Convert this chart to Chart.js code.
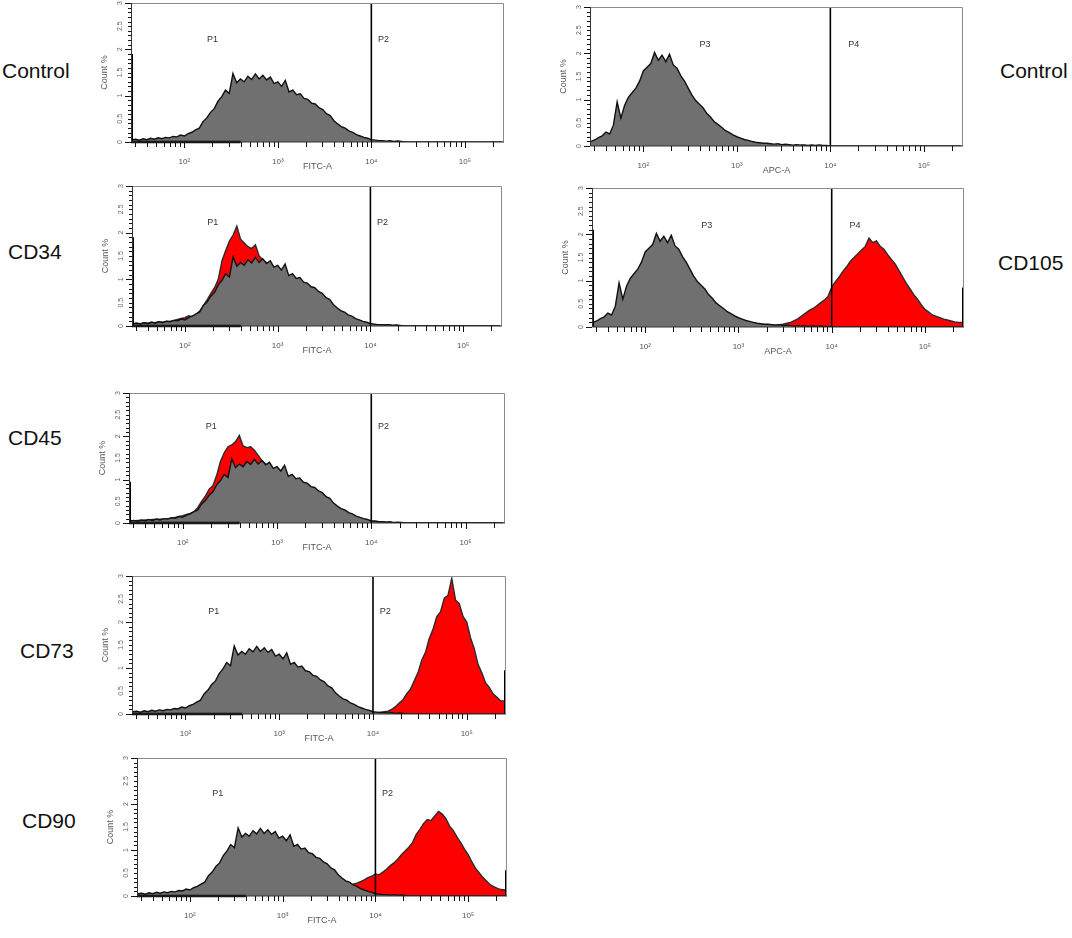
<!DOCTYPE html>
<html>
<head>
<meta charset="utf-8">
<script src="https://cdn.jsdelivr.net/npm/chart.js@4.4.1/dist/chart.umd.min.js"></script>
<style>
  body { margin: 0; background: #fff; width: 1072px; height: 938px; position: relative; overflow: hidden;
         font-family: "Liberation Sans", Arial, sans-serif; }
  .row-label { position: absolute; font-size: 21px; line-height: 1; color: #111; transform: translateY(-50%); }
  canvas { position: absolute; }
</style>
</head>
<body>

<div class="row-label" style="left:2px;top:70px">Control</div>
<div class="row-label" style="left:8px;top:251px">CD34</div>
<div class="row-label" style="left:8px;top:437px">CD45</div>
<div class="row-label" style="left:20px;top:650px">CD73</div>
<div class="row-label" style="left:22px;top:820px">CD90</div>
<div class="row-label" style="left:1000px;top:70px">Control</div>
<div class="row-label" style="left:998px;top:262px">CD105</div>

<script>
// histogram bins: centre of each bin as log10 of fluorescence
const binLog = Array.from({ length: 100 }, (_, i) => +(1.44 + i * 0.04).toFixed(2));

const xMin = 26.9;
const xMax = 262144;
const xTickVals = [30, 40, 50, 60, 70, 80, 90,
  100, 200, 300, 400, 500, 600, 700, 800, 900,
  1000, 2000, 3000, 4000, 5000, 6000, 7000, 8000, 9000,
  10000, 20000, 30000, 40000, 50000, 60000, 70000, 80000, 90000,
  100000, 200000];
const xTickLabels = { 100: '10²', 1000: '10³', 10000: '10⁴', 100000: '10⁵' };
const yLabelVals = [0, 0.5, 1, 1.5, 2, 2.5, 3];
const gateValue = 10000;
const fitcMarkerBar = [xMin, 400];   // dark bar along the FITC baseline

const fitcGateLabels = [{ text: 'P1', x: 200, y: 2.22 }, { text: 'P2', x: 13500, y: 2.22 }];
const apcGateLabels = [{ text: 'P3', x: 457, y: 2.2 }, { text: 'P4', x: 17800, y: 2.2 }];

// Count % per bin
const controlFITC = [
  0.05, 0.06, 0.04, 0.07, 0.05, 0.08, 0.06, 0.09, 0.07, 0.10,
  0.09, 0.12, 0.11, 0.15, 0.13, 0.18, 0.21, 0.26, 0.30, 0.44,
  0.52, 0.64, 0.72, 0.88, 0.98, 1.12, 1.05, 1.48, 1.28, 1.36,
  1.30, 1.42, 1.35, 1.47, 1.36, 1.44, 1.34, 1.40, 1.26, 1.30,
  1.20, 1.33, 1.08, 1.12, 1.02, 1.04, 0.94, 0.92, 0.84, 0.82,
  0.74, 0.70, 0.61, 0.57, 0.46, 0.39, 0.33, 0.30, 0.24, 0.21,
  0.16, 0.13, 0.10, 0.08, 0.05, 0.04, 0.03, 0.03, 0.02, 0.03,
  0.01, 0.02, 0.01, 0, 0, 0, 0, 0, 0, 0,
  0, 0, 0, 0, 0, 0, 0, 0, 0, 0,
  0, 0, 0, 0, 0, 0, 0, 0, 0, 0];

const cd34 = [
  0.05, 0.06, 0.05, 0.07, 0.06, 0.08, 0.07, 0.09, 0.08, 0.10,
  0.10, 0.12, 0.14, 0.16, 0.18, 0.22, 0.20, 0.24, 0.32, 0.44,
  0.56, 0.70, 0.82, 1.00, 1.40, 1.62, 1.82, 1.95, 2.14, 1.86,
  1.78, 1.70, 1.66, 1.74, 1.50, 1.42, 1.36, 1.30, 1.26, 1.20,
  1.18, 1.12, 1.06, 1.04, 1.00, 0.96, 0.92, 0.88, 0.84, 0.78,
  0.72, 0.66, 0.60, 0.52, 0.44, 0.36, 0.30, 0.25, 0.20, 0.16,
  0.13, 0.10, 0.08, 0.06, 0.05, 0.03, 0.03, 0.02, 0.02, 0.02,
  0.01, 0.01, 0, 0, 0, 0, 0, 0, 0, 0,
  0, 0, 0, 0, 0, 0, 0, 0, 0, 0,
  0, 0, 0, 0, 0, 0, 0, 0, 0, 0];

const cd45 = [
  0.05, 0.05, 0.06, 0.06, 0.07, 0.07, 0.08, 0.08, 0.09, 0.09,
  0.10, 0.11, 0.13, 0.15, 0.17, 0.20, 0.22, 0.26, 0.36, 0.50,
  0.62, 0.78, 0.86, 1.10, 1.42, 1.62, 1.76, 1.80, 1.88, 2.02,
  1.78, 1.74, 1.76, 1.68, 1.56, 1.44, 1.36, 1.28, 1.24, 1.18,
  1.16, 1.10, 1.06, 1.02, 0.98, 0.94, 0.90, 0.86, 0.82, 0.76,
  0.70, 0.64, 0.58, 0.50, 0.42, 0.35, 0.30, 0.24, 0.20, 0.16,
  0.12, 0.10, 0.08, 0.06, 0.05, 0.04, 0.03, 0.02, 0.02, 0.01,
  0, 0, 0, 0, 0, 0, 0, 0, 0, 0,
  0, 0, 0, 0, 0, 0, 0, 0, 0, 0,
  0, 0, 0, 0, 0, 0, 0, 0, 0, 0];

const cd73 = [
  0, 0, 0, 0, 0, 0, 0, 0, 0, 0,
  0, 0, 0, 0, 0, 0, 0, 0, 0, 0,
  0, 0, 0, 0, 0, 0, 0, 0, 0, 0,
  0, 0, 0, 0, 0, 0, 0, 0, 0, 0,
  0, 0, 0, 0, 0, 0, 0, 0, 0, 0,
  0, 0, 0, 0, 0, 0, 0, 0, 0, 0,
  0, 0, 0, 0, 0.02, 0.03, 0.04, 0.05, 0.06, 0.10,
  0.16, 0.24, 0.31, 0.44, 0.54, 0.72, 0.90, 1.17, 1.34, 1.64,
  1.84, 2.12, 2.22, 2.52, 2.58, 2.95, 2.48, 2.40, 2.12, 2.00,
  1.66, 1.42, 1.08, 0.90, 0.68, 0.58, 0.44, 0.37, 0.29, 0.28];

const cd90 = [
  0, 0, 0, 0, 0, 0, 0, 0, 0, 0,
  0, 0, 0, 0, 0, 0, 0, 0, 0, 0,
  0, 0, 0, 0, 0, 0, 0, 0, 0, 0,
  0, 0, 0, 0, 0, 0, 0, 0, 0, 0,
  0, 0, 0, 0, 0, 0, 0, 0, 0, 0,
  0, 0, 0, 0, 0, 0, 0.10, 0.16, 0.26, 0.28,
  0.31, 0.35, 0.40, 0.43, 0.48, 0.46, 0.52, 0.58, 0.66, 0.72,
  0.80, 0.90, 0.98, 1.06, 1.16, 1.34, 1.45, 1.58, 1.66, 1.64,
  1.74, 1.84, 1.78, 1.68, 1.52, 1.42, 1.28, 1.16, 1.02, 0.90,
  0.74, 0.60, 0.50, 0.40, 0.32, 0.24, 0.20, 0.16, 0.14, 0.13];

const controlAPC = [
  0.10, 0.13, 0.18, 0.22, 0.30, 0.26, 0.45, 0.95, 0.60, 0.88,
  1.05, 1.15, 1.25, 1.40, 1.62, 1.70, 1.78, 2.02, 1.85, 1.96,
  1.82, 1.98, 1.75, 1.68, 1.52, 1.40, 1.25, 1.10, 0.98, 0.90,
  0.82, 0.70, 0.62, 0.52, 0.46, 0.40, 0.33, 0.29, 0.24, 0.20,
  0.17, 0.14, 0.12, 0.10, 0.08, 0.07, 0.06, 0.06, 0.05, 0.04,
  0.05, 0.03, 0.04, 0.03, 0.02, 0.03, 0.02, 0.02, 0.01, 0.02,
  0.01, 0.02, 0.01, 0.01, 0, 0, 0, 0, 0, 0,
  0, 0, 0, 0, 0, 0, 0, 0, 0, 0,
  0, 0, 0, 0, 0, 0, 0, 0, 0, 0,
  0, 0, 0, 0, 0, 0, 0, 0, 0, 0];

const cd105 = [
  0, 0, 0, 0, 0, 0, 0, 0, 0, 0,
  0, 0, 0, 0, 0, 0, 0, 0, 0, 0,
  0, 0, 0, 0, 0, 0, 0, 0, 0, 0,
  0, 0, 0, 0, 0, 0, 0, 0, 0, 0,
  0, 0, 0, 0, 0, 0, 0.02, 0.03, 0.04, 0.04,
  0.05, 0.06, 0.08, 0.10, 0.14, 0.18, 0.24, 0.30, 0.36, 0.40,
  0.46, 0.52, 0.58, 0.66, 0.86, 0.98, 1.08, 1.20, 1.30, 1.42,
  1.50, 1.58, 1.66, 1.74, 1.92, 1.82, 1.86, 1.74, 1.68, 1.56,
  1.46, 1.36, 1.22, 1.08, 0.94, 0.82, 0.70, 0.60, 0.48, 0.38,
  0.32, 0.26, 0.23, 0.20, 0.17, 0.15, 0.13, 0.11, 0.10, 0.10];

// events piled up on the lowest / highest channel, per panel (same order as panels)
const lowEdgeCounts = [1.9, 1.9, 0.95, 0, 0, 0, 2.1];
const highEdgeCounts = [0, 0, 0, 0.95, 0.56, 0, 0.85];

// plot areas on the page: [left, top, right, bottom]
const panels = [
  { box: [131, 3, 504, 142], axis: 'FITC-A', gray: controlFITC, red: null, labels: fitcGateLabels, bar: fitcMarkerBar },
  { box: [132, 186, 502, 326], axis: 'FITC-A', gray: controlFITC, red: cd34, labels: fitcGateLabels, bar: fitcMarkerBar },
  { box: [129, 393, 505, 523], axis: 'FITC-A', gray: controlFITC, red: cd45, labels: fitcGateLabels, bar: fitcMarkerBar },
  { box: [132, 576, 506, 714], axis: 'FITC-A', gray: controlFITC, red: cd73, labels: fitcGateLabels, bar: fitcMarkerBar },
  { box: [137, 758, 507, 896], axis: 'FITC-A', gray: controlFITC, red: cd90, labels: fitcGateLabels, bar: fitcMarkerBar },
  { box: [590, 7, 963, 146], axis: 'APC-A', gray: controlAPC, red: null, labels: apcGateLabels, bar: null },
  { box: [592, 188, 964, 327], axis: 'APC-A', gray: controlAPC, red: cd105, labels: apcGateLabels, bar: null },
];

Chart.defaults.font.family = '"Liberation Sans", Arial, sans-serif';

const panelDecor = {
  id: 'panelDecor',
  afterDraw(chart, args, opts) {
    const { ctx, chartArea: a, scales: { x, y } } = chart;
    ctx.save();
    // frame: light top/right, dark left/bottom
    ctx.strokeStyle = '#8c8c8c';
    ctx.lineWidth = 1;
    ctx.beginPath();
    ctx.moveTo(a.left, a.top + 0.5);
    ctx.lineTo(a.right - 0.5, a.top + 0.5);
    ctx.lineTo(a.right - 0.5, a.bottom);
    ctx.stroke();
    ctx.strokeStyle = '#333';
    ctx.lineWidth = 1;
    ctx.beginPath();
    ctx.moveTo(a.left + 0.5, a.top);
    ctx.lineTo(a.left + 0.5, a.bottom);
    ctx.lineTo(a.right, a.bottom);
    ctx.stroke();

    // tick marks
    ctx.strokeStyle = '#111';
    ctx.lineWidth = 1;
    ctx.beginPath();
    xTickVals.forEach(v => {
      const px = Math.round(x.getPixelForValue(v)) + 0.5;
      ctx.moveTo(px, a.bottom);
      ctx.lineTo(px, a.bottom + (xTickLabels[v] ? 6 : 5));
    });
    for (let k = 0; k <= 30; k++) {
      const py = Math.round(y.getPixelForValue(k / 10)) + 0.5;
      ctx.moveTo(a.left, py);
      ctx.lineTo(a.left - (k % 10 === 0 ? 6 : 3), py);
    }
    ctx.stroke();

    ctx.fillStyle = '#333';
    ctx.font = '9px "Liberation Sans", Arial, sans-serif';
    ctx.textAlign = 'center';
    ctx.textBaseline = 'middle';
    opts.gateLabels.forEach(g => ctx.fillText(g.text, x.getPixelForValue(g.x), y.getPixelForValue(g.y)));

    ctx.fillStyle = '#666';
    ctx.font = '7px "Liberation Sans", Arial, sans-serif';
    yLabelVals.forEach(v => {
      ctx.save();
      ctx.translate(a.left - 11, y.getPixelForValue(v));
      ctx.rotate(-Math.PI / 2);
      ctx.fillText(String(v), 0, 0);
      ctx.restore();
    });
    ctx.restore();
  }
};

function toPoints(vals) {
  return vals.map((v, i) => ({ x: Math.pow(10, binLog[i]), y: v }));
}

function histSet(vals, fillColor, lineColor, order) {
  return {
    data: toPoints(vals),
    fill: 'origin',
    tension: 0,
    backgroundColor: fillColor,
    borderColor: lineColor,
    borderWidth: 1.4,
    borderJoinStyle: 'miter',
    pointRadius: 0,
    order: order
  };
}

function edgeSet(xv, count) {
  return {
    data: [{ x: xv, y: 0 }, { x: xv, y: count }],
    borderColor: '#000',
    borderWidth: 4,
    pointRadius: 0,
    fill: false,
    order: 2
  };
}

function makePanel(p, idx) {
  const padL = 36, padT = 6, padR = 8, padB = 34;
  const [L, T, R, B] = p.box;
  const w = R - L + padL + padR;
  const h = B - T + padT + padB;
  const cv = document.createElement('canvas');
  cv.width = w;
  cv.height = h;
  cv.style.left = (L - padL) + 'px';
  cv.style.top = (T - padT) + 'px';
  cv.style.width = w + 'px';
  cv.style.height = h + 'px';
  document.body.appendChild(cv);

  const datasets = [];
  if (p.red) datasets.push(histSet(p.red, '#ff0000', '#2b2b2b', 4));
  datasets.push(histSet(p.gray, '#707070', '#111111', 3));
  if (lowEdgeCounts[idx] > 0) datasets.push(edgeSet(xMin, lowEdgeCounts[idx]));
  if (highEdgeCounts[idx] > 0) datasets.push(edgeSet(xMax, highEdgeCounts[idx]));
  if (p.bar) {
    datasets.push({
      data: [{ x: p.bar[0], y: 0 }, { x: p.bar[1], y: 0 }],
      borderColor: '#000',
      borderWidth: 2.5,
      pointRadius: 0,
      fill: false,
      clip: false,
      order: 2
    });
  }
  datasets.push({
    data: [{ x: gateValue, y: 0 }, { x: gateValue, y: 3 }],
    borderColor: '#000',
    borderWidth: 1.6,
    pointRadius: 0,
    fill: false,
    order: 1
  });

  new Chart(cv, {
    type: 'line',
    data: { datasets },
    plugins: [panelDecor],
    options: {
      responsive: false,
      animation: false,
      layout: { padding: { top: padT, right: padR, left: 0, bottom: 0 } },
      plugins: {
        legend: { display: false },
        tooltip: { enabled: false },
        panelDecor: { gateLabels: p.labels }
      },
      scales: {
        x: {
          type: 'logarithmic',
          min: xMin,
          max: xMax,
          afterBuildTicks: s => { s.ticks = xTickVals.map(v => ({ value: v })); },
          afterFit: s => { s.height = padB; },
          ticks: {
            autoSkip: false, maxRotation: 0, minRotation: 0, padding: 7,
            color: '#555', font: { size: 8 },
            callback: v => xTickLabels[v] || ''
          },
          grid: { display: false },
          border: { display: false },
          title: { display: true, text: p.axis, color: '#555', font: { size: 9 }, padding: { top: 0, bottom: 4 } }
        },
        y: {
          min: 0,
          max: 3,
          afterFit: s => { s.width = padL; },
          ticks: { display: false },
          grid: { display: false },
          border: { display: false },
          title: { display: true, text: 'Count %', color: '#555', font: { size: 9 }, padding: 4 }
        }
      }
    }
  });
}

panels.forEach(makePanel);
</script>
</body>
</html>
